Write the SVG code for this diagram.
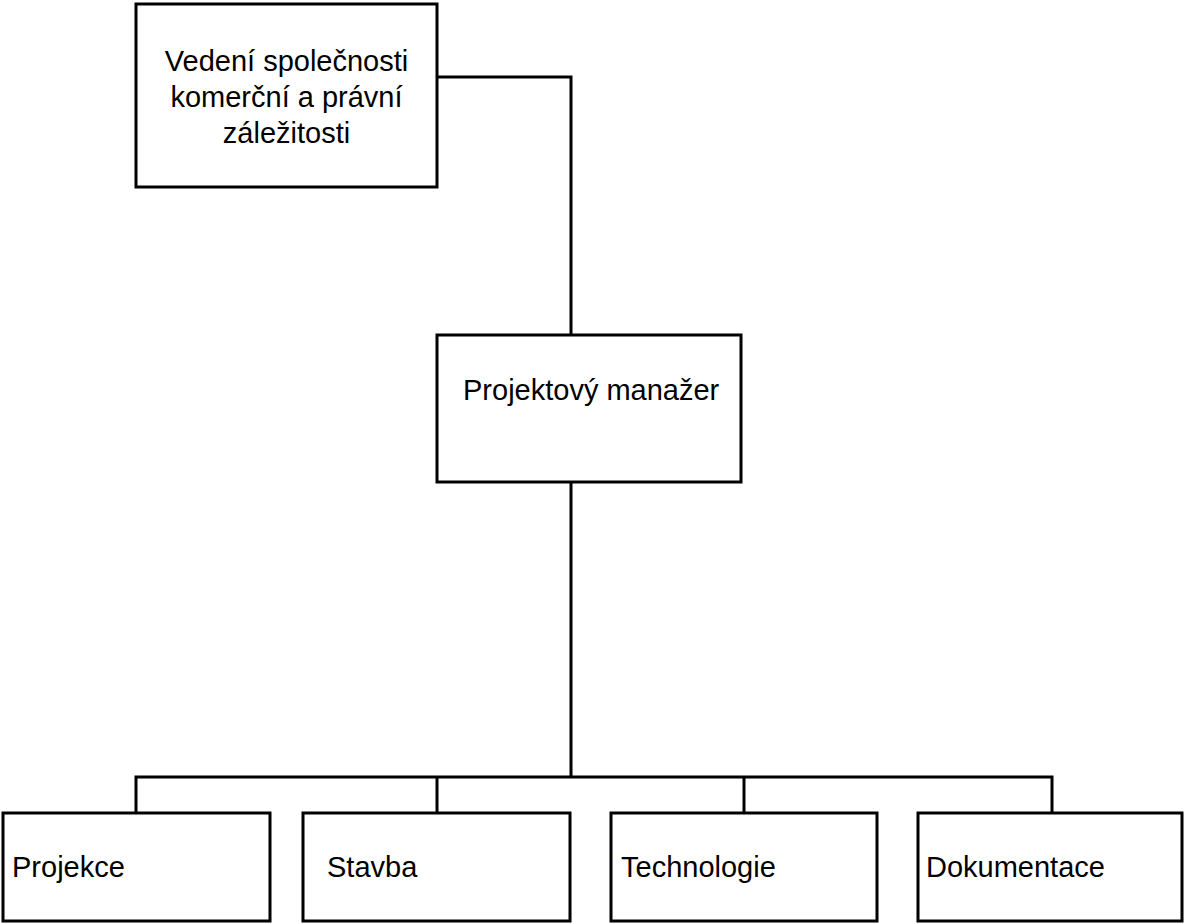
<svg xmlns="http://www.w3.org/2000/svg" width="1185" height="924" viewBox="0 0 1185 924">
<style>
.box{fill:#fff;stroke:#000;stroke-width:3}
.con{fill:none;stroke:#000;stroke-width:3}
text{font-family:"Liberation Sans",Arial,sans-serif;font-size:29px;fill:#000}
</style>
<rect width="1185" height="924" fill="#fff"/>
<g id="connectors">
<polyline class="con" points="437,77 571,77 571,335"/>
<line class="con" x1="571" y1="482" x2="571" y2="777"/>
<polyline class="con" points="136,813 136,777 1052,777 1052,813"/>
<line class="con" x1="437" y1="777" x2="437" y2="813"/>
<line class="con" x1="744" y1="777" x2="744" y2="813"/>
</g>
<g id="vedeni">
<rect class="box" x="136" y="4" width="301" height="183"/>
<text x="286.5" y="71" text-anchor="middle">Vedení společnosti</text>
<text x="286.5" y="107" text-anchor="middle">komerční a právní</text>
<text x="286.5" y="143" text-anchor="middle">záležitosti</text>
</g>
<g id="manazer">
<rect class="box" x="437" y="335" width="304" height="147"/>
<text x="463" y="400">Projektový manažer</text>
</g>
<g id="projekce">
<rect class="box" x="3" y="813" width="267" height="108"/>
<text x="12" y="877">Projekce</text>
</g>
<g id="stavba">
<rect class="box" x="303" y="813" width="267" height="108"/>
<text x="327" y="877">Stavba</text>
</g>
<g id="technologie">
<rect class="box" x="611" y="813" width="266" height="108"/>
<text x="621" y="877">Technologie</text>
</g>
<g id="dokumentace">
<rect class="box" x="918" y="813" width="264" height="108"/>
<text x="926" y="877">Dokumentace</text>
</g>
</svg>
